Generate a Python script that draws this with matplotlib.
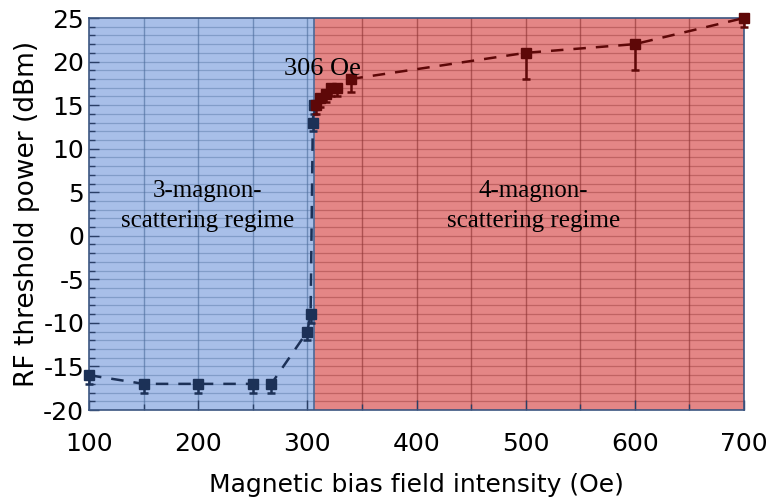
import matplotlib
matplotlib.use("Agg")
import matplotlib.pyplot as plt
from matplotlib.ticker import MultipleLocator

matplotlib.rcParams["axes.unicode_minus"] = False

# data
field_3m = [100, 150, 200, 250, 267, 300, 303, 305, 306]
power_3m = [-16, -17, -17, -17, -17, -11, -9, 13, 15]
err_3m = [1, 1, 1, 1, 1, 1, 1, 1, 1]

field_4m = [308, 312, 317, 322, 327, 340, 500, 600, 700]
power_4m = [15, 15.8, 16.3, 17, 17, 18, 21, 22, 25]
err_4m = [1, 1, 1, 1, 1, 1.5, 3, 3, 1]

boundary = 306

fig = plt.figure(figsize=(7.71, 5.03), dpi=100)
ax = fig.add_axes([89 / 771, 1 - 410 / 503, (744 - 89) / 771, (410 - 18) / 503])

ax.set_xlim(100, 700)
ax.set_ylim(-20, 25)

# regime backgrounds
ax.axvspan(100, boundary, color="#a8bfe8", zorder=0)
ax.axvspan(boundary, 700, color="#e48686", zorder=0)

# grid lines
for y in range(-19, 25):
    ax.plot([100, boundary], [y, y], color="#4a6a9a", lw=0.9, alpha=0.4, zorder=1)
    ax.plot([boundary, 700], [y, y], color="#8a3030", lw=0.9, alpha=0.4, zorder=1)
for x in range(150, 700, 50):
    c = "#4a6a9a" if x < boundary else "#8a3030"
    ax.axvline(x, color=c, lw=1.0, alpha=0.6, zorder=1)
ax.axvline(boundary, color="#4a6a9a", lw=1.2, zorder=2)

ax.errorbar(field_3m, power_3m, yerr=[err_3m, [0] * len(err_3m)],
            fmt="s", ls="--", color="#1c3157", ms=7, lw=1.8, capsize=3,
            elinewidth=1.8, capthick=1.8, dashes=(5, 4), zorder=4, clip_on=False)
ax.errorbar(field_4m, power_4m, yerr=[err_4m, [0] * len(err_4m)],
            fmt="s", ls="--", color="#5e0808", ms=7, lw=1.8, capsize=3,
            elinewidth=1.8, capthick=1.8, dashes=(5, 4), zorder=4, clip_on=False)

ax.text(314, 19.2, "306 Oe", family="Liberation Serif", fontsize=19,
        ha="center", va="center", zorder=5)
ax.text(209, 3.4, "3-magnon-\nscattering regime", family="Liberation Serif",
        fontsize=18, ha="center", va="center", linespacing=1.5, zorder=5)
ax.text(507, 3.4, "4-magnon-\nscattering regime", family="Liberation Serif",
        fontsize=18, ha="center", va="center", linespacing=1.5, zorder=5)

ax.xaxis.set_major_locator(MultipleLocator(100))
ax.xaxis.set_minor_locator(MultipleLocator(50))
ax.yaxis.set_major_locator(MultipleLocator(5))
ax.yaxis.set_minor_locator(MultipleLocator(1))
ax.tick_params(axis="both", which="both", direction="in", labelsize=18,
               color="#2a3f66", top=False, right=False)
ax.tick_params(which="major", length=7, width=1.0)
ax.tick_params(which="minor", length=4, width=1.0)
ax.tick_params(axis="x", pad=16)

for s in ax.spines.values():
    s.set_color("#3b5580")
    s.set_linewidth(1.2)

ax.set_xlabel("Magnetic bias field intensity (Oe)", fontsize=18, labelpad=12)
ax.set_ylabel("RF threshold power (dBm)", fontsize=19, labelpad=2)

fig.savefig("out.png", dpi=100)
